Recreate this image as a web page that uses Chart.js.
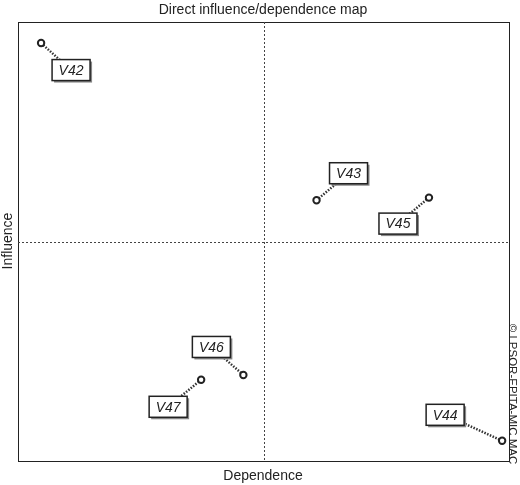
<!DOCTYPE html>
<html><head><meta charset="utf-8">
<script src="https://cdn.jsdelivr.net/npm/chart.js@4/dist/chart.umd.min.js"></script>
<style>html,body{margin:0;padding:0;background:#fff}#w{width:520px;height:485px}</style>
</head><body><div id="w"><canvas id="c"></canvas></div>
<script>
const names = ["V42","V43","V45","V46","V47","V44"];
const dependence = [4.7, 60.8, 83.7, 45.9, 37.3, 98.6];
const influence = [95.2, 59.4, 60.0, 19.6, 18.5, 4.6];
const labelOffsets = [[30,27],[32,-27],[-31,26],[-32,-28],[-33,27],[-57,-26]];

const deco = {
  id:'deco',
  beforeDatasetsDraw(ch){
    const {ctx, chartArea:a} = ch;
    ctx.save();
    ctx.strokeStyle='#222'; ctx.lineWidth=1;
    ctx.strokeRect(a.left+0.5,a.top+0.5,a.right-a.left,a.bottom-a.top);
    ctx.setLineDash([2,2]); ctx.strokeStyle='#444';
    const cx=ch.scales.x.getPixelForValue(50), cy=ch.scales.y.getPixelForValue(50);
    ctx.beginPath(); ctx.moveTo(Math.round(cx)+0.5,a.top); ctx.lineTo(Math.round(cx)+0.5,a.bottom);
    ctx.moveTo(a.left,Math.round(cy)+0.5); ctx.lineTo(a.right,Math.round(cy)+0.5); ctx.stroke();
    ctx.setLineDash([]);
    ctx.fillStyle='#222'; ctx.font='14px Arial, "Liberation Sans"'; ctx.textAlign='center'; ctx.textBaseline='middle';
    ctx.fillText('Direct influence/dependence map',263,10);
    ctx.fillText('Dependence',263,476);
    ctx.save(); ctx.translate(8,241); ctx.rotate(-Math.PI/2); ctx.fillText('Influence',0,0); ctx.restore();
    ctx.save(); ctx.font='11.5px Arial, "Liberation Sans"'; ctx.translate(512,394); ctx.rotate(Math.PI/2); ctx.fillText('© LPSOR-EPITA-MIC MAC',0,0); ctx.restore();
    const meta=ch.getDatasetMeta(0);
    meta.data.forEach((p,i)=>{
      const [dx,dy]=labelOffsets[i]; const bx=p.x+dx, by=p.y+dy;
      ctx.strokeStyle='#333'; ctx.lineWidth=2.5; ctx.setLineDash([1.5,1.5]);
      ctx.beginPath(); ctx.moveTo(p.x,p.y); ctx.lineTo(bx,by); ctx.stroke(); ctx.setLineDash([]);
    });
    meta.data.forEach((p,i)=>{
      const [dx,dy]=labelOffsets[i]; const bx=p.x+dx, by=p.y+dy;
      const w=38,h=21;
      ctx.fillStyle='#888'; ctx.fillRect(bx-w/2+2,by-h/2+2,w,h);
      ctx.fillStyle='#fff'; ctx.fillRect(bx-w/2,by-h/2,w,h);
      ctx.strokeStyle='#222'; ctx.lineWidth=1.5; ctx.strokeRect(bx-w/2,by-h/2,w,h);
      ctx.fillStyle='#222'; ctx.font='italic 14px Arial, "Liberation Sans"';
      ctx.fillText(names[i],bx,by+1);
    });
    ctx.restore();
  }
};

new Chart(document.getElementById('c'),{
  type:'scatter',
  data:{datasets:[{data:dependence.map((x,i)=>({x,y:influence[i]})),
    pointRadius:3.2, pointBackgroundColor:'#fff', pointBorderColor:'#222', pointBorderWidth:2}]},
  options:{responsive:true,maintainAspectRatio:false,animation:false,
    layout:{padding:{left:18,top:22,right:11,bottom:24}},
    plugins:{legend:{display:false},tooltip:{enabled:false}},
    scales:{x:{display:false,min:0,max:100},y:{display:false,min:0,max:100}}},
  plugins:[deco]
});
</script></body></html>
